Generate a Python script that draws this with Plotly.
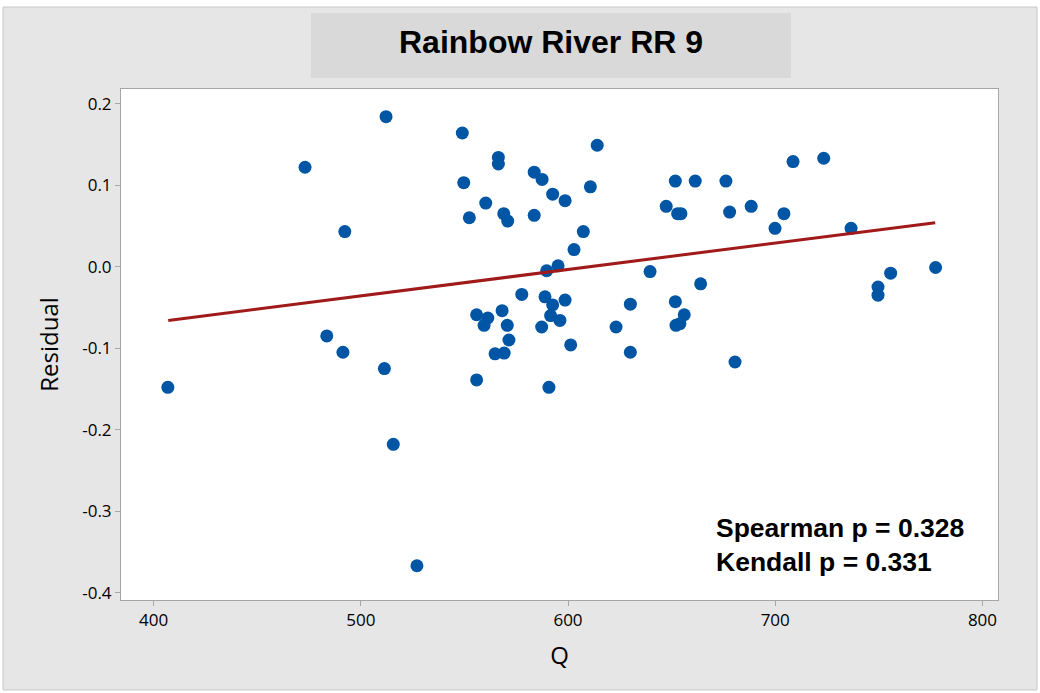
import plotly.graph_objects as go

# Data
q = [406.9, 473.1, 492.3, 483.6, 491.4, 512.2, 511.4, 515.7, 527.1, 549.0,
     549.7, 552.4, 555.9, 555.9, 560.3, 561.3, 559.5, 566.4, 566.4, 564.8,
     569.2, 568.2, 569.0, 570.9, 570.7, 571.5, 577.7, 583.7, 587.5, 583.7,
     592.6, 587.3, 588.9, 589.7, 595.2, 592.6, 591.6, 596.1, 598.6, 598.6,
     601.3, 602.9, 607.4, 610.8, 614.1, 590.8, 623.2, 630.1, 630.1, 639.6,
     647.4, 651.8, 652.9, 654.5, 651.8, 652.1, 654.0, 656.1, 664.0, 661.4,
     676.2, 678.0, 680.6, 688.4, 699.9, 704.2, 708.6, 723.4, 736.6, 749.6,
     749.6, 755.7, 777.4]
residual = [-0.148, 0.122, 0.043, -0.085, -0.105, 0.184, -0.125, -0.218, -0.367, 0.164,
            0.103, 0.060, -0.059, -0.139, 0.078, -0.063, -0.072, 0.134, 0.126, -0.107,
            -0.106, -0.054, 0.065, 0.056, -0.072, -0.090, -0.034, 0.116, 0.107, 0.063,
            0.089, -0.074, -0.037, -0.005, 0.001, -0.047, -0.060, -0.066, 0.081, -0.041,
            -0.096, 0.021, 0.043, 0.098, 0.149, -0.148, -0.074, -0.046, -0.105, -0.006,
            0.074, 0.105, 0.065, 0.065, -0.043, -0.072, -0.070, -0.059, -0.021, 0.105,
            0.105, 0.067, -0.117, 0.074, 0.047, 0.065, 0.129, 0.133, 0.047, -0.025,
            -0.035, -0.008, -0.001]

fit_q = [407.1, 777.2]
fit_resid = [-0.066, 0.054]

x_ticks = [400, 500, 600, 700, 800]
x_tick_labels = ["400", "500", "600", "700", "800"]
y_ticks = [0.2, 0.1, 0.0, -0.1, -0.2, -0.3, -0.4]
y_tick_labels = ["0.2", "0.1", "0.0", "-0.1", "-0.2", "-0.3", "-0.4"]

title_text = "Rainbow River RR 9"
stats_lines = ["Spearman p = 0.328", "Kendall p = 0.331"]

W, H = 1040, 693
L, R, T, B = 121, 998, 89, 600

fig = go.Figure()
fig.add_trace(go.Scatter(
    x=q, y=residual, mode="markers",
    marker=dict(color="#0055A5", size=13, line=dict(width=0)),
    showlegend=False, hoverinfo="x+y"))
fig.add_trace(go.Scatter(
    x=fit_q, y=fit_resid, mode="lines",
    line=dict(color="#A01A1A", width=3),
    showlegend=False))

axis_common = dict(
    showgrid=False, zeroline=False, showline=True, linecolor="#A6A6A6",
    linewidth=1, mirror=True, ticks="outside", ticklen=5, tickcolor="#A6A6A6",
    tickfont=dict(family="Open Sans, DejaVu Sans, sans-serif", size=17, color="#000000"),
)

fig.update_layout(
    width=W, height=H,
    margin=dict(l=L, r=W - R, t=T, b=H - B, pad=0),
    paper_bgcolor="#FFFFFF",
    plot_bgcolor="#FFFFFF",
    xaxis=dict(range=[384.3, 807.5], tickvals=x_ticks, ticktext=x_tick_labels,
               title=dict(text="Q", font=dict(family="Open Sans, DejaVu Sans, sans-serif",
                                                size=24, color="#000000"), standoff=16),
               **axis_common),
    yaxis=dict(range=[-0.409, 0.218], tickvals=y_ticks, ticktext=y_tick_labels,
               title=dict(text="Residual", font=dict(family="Open Sans, DejaVu Sans, sans-serif",
                                                       size=24, color="#000000"), standoff=16),
               **axis_common),
    shapes=[
        dict(type="rect", xref="paper", yref="paper", layer="below",
             x0=(3 - L) / (R - L), x1=(1037 - L) / (R - L),
             y0=(B - 690) / (B - T), y1=(B - 7) / (B - T),
             fillcolor="#E6E6E6", line=dict(color="#C8C8C8", width=1)),
        dict(type="rect", xref="paper", yref="paper", layer="below",
             x0=0, x1=1, y0=0, y1=1,
             fillcolor="#FFFFFF", line=dict(width=0)),
        dict(type="rect", xref="paper", yref="paper", layer="below",
             x0=(311 - L) / (R - L), x1=(791 - L) / (R - L),
             y0=(B - 78) / (B - T), y1=(B - 13) / (B - T),
             fillcolor="#D9D9D9", line=dict(width=0)),
    ],
    annotations=[
        dict(text="<b>" + title_text + "</b>", xref="paper", yref="paper",
             x=(551 - L) / (R - L), y=(B - 42) / (B - T), showarrow=False,
             xanchor="center", yanchor="middle",
             font=dict(family="Liberation Sans, Arial, sans-serif", size=32, color="#000000")),
        dict(text="<b>" + stats_lines[0] + "</b><br><b>" + stats_lines[1] + "</b>",
             xref="paper", yref="paper", align="left",
             x=(714 - L) / (R - L), y=(B - 545) / (B - T), showarrow=False,
             xanchor="left", yanchor="middle",
             font=dict(family="Liberation Sans, Arial, sans-serif", size=26.5, color="#000000")),
    ],
)

fig.write_html("out.html")
